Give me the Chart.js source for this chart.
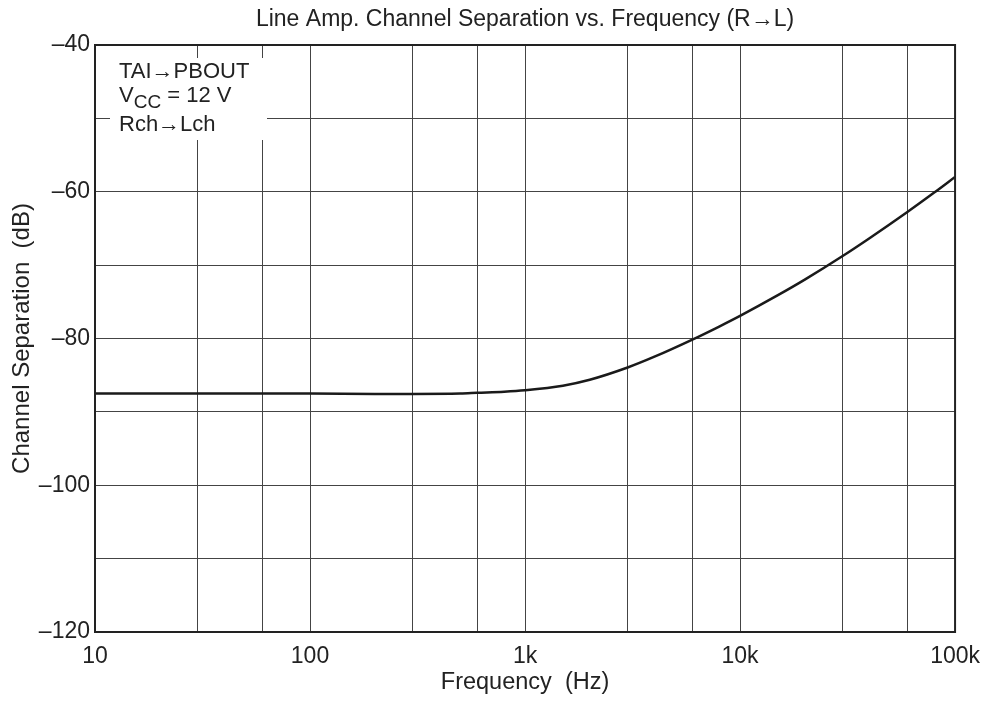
<!DOCTYPE html>
<html><head><meta charset="utf-8">
<script src="https://cdn.jsdelivr.net/npm/chart.js@4"></script>
<style>html,body{margin:0;padding:0;background:#fff}#wrap{width:991px;height:704px}</style>
</head><body><div id="wrap"><canvas id="c" width="991" height="704"></canvas></div>
<script>
// ---- data ----
const freqHz = [10, 20, 50, 100, 200, 300, 500, 600, 800, 1000, 1500, 2000, 3000, 4000, 6000, 8000, 10000, 15000, 20000, 30000, 40000, 60000, 80000, 100000];
const separationDb = [-87.5, -87.5, -87.5, -87.5, -87.55, -87.55, -87.5, -87.4, -87.25, -87.05, -86.43, -85.62, -83.95, -82.48, -80.15, -78.37, -76.92, -74.1, -71.98, -68.76, -66.33, -62.76, -60.11, -57.98];
const xGridValues = [10, 30, 60, 100, 300, 600, 1000, 3000, 6000, 10000, 30000, 60000, 100000];
const xTickLabels = {10: '10', 100: '100', 1000: '1k', 10000: '10k', 100000: '100k'};
const yTickLabels = {'-120': '\u2013120', '-100': '\u2013100', '-80': '\u201380', '-60': '\u201360', '-40': '\u201340'};
const chartTitle = 'Line Amp. Channel Separation vs. Frequency (R\u2192L)';
const xTitle = 'Frequency  (Hz)';
const yTitle = 'Channel Separation  (dB)';
const noteLine1 = 'TAI\u2192PBOUT';
const noteLine2 = ['V', 'CC', ' = 12 V'];
const noteLine3 = 'Rch\u2192Lch';

const FAM = '"Liberation Sans", Arial, Helvetica, sans-serif';
const TXT = '#222';

const framePlugin = {
  id: 'frame',
  afterDraw(chart) {
    const {ctx, chartArea: a} = chart;
    ctx.save();
    ctx.strokeStyle = '#222';
    ctx.lineWidth = 2;
    ctx.strokeRect(a.left, a.top, a.right - a.left, a.bottom - a.top);
    // annotation box
    ctx.fillStyle = '#fff';
    ctx.fillRect(a.left + 15, a.top + 13, 157, 82);
    ctx.fillStyle = TXT;
    ctx.textBaseline = 'alphabetic';
    ctx.textAlign = 'left';
    const x = a.left + 24;
    ctx.font = '22px ' + FAM;
    ctx.fillText(noteLine1, x, a.top + 33);
    let w = ctx.measureText(noteLine2[0]).width;
    ctx.fillText(noteLine2[0], x, a.top + 57);
    ctx.font = '19px ' + FAM;
    ctx.fillText(noteLine2[1], x + w, a.top + 63);
    const w2 = ctx.measureText(noteLine2[1]).width;
    ctx.font = '22px ' + FAM;
    ctx.fillText(noteLine2[2], x + w + w2, a.top + 57);
    ctx.fillText(noteLine3, x, a.top + 86);
    ctx.restore();
  }
};

new Chart(document.getElementById('c'), {
  type: 'line',
  data: {
    labels: freqHz,
    datasets: [{
      data: freqHz.map((f, i) => ({x: f, y: separationDb[i]})),
      borderColor: '#1a1a1a',
      borderWidth: 2.5,
      pointRadius: 0,
      fill: false,
      cubicInterpolationMode: 'monotone'
    }]
  },
  options: {
    responsive: false,
    animation: false,
    devicePixelRatio: 1,
    layout: {padding: {left: 0, right: 34, top: 0, bottom: 0}},
    plugins: {
      legend: {display: false},
      tooltip: {enabled: false},
      title: {
        display: true, text: chartTitle, color: TXT, fullSize: false,
        font: {size: 23, family: FAM, weight: 'normal'},
        padding: {top: 6, bottom: 11.4}
      }
    },
    scales: {
      x: {
        type: 'logarithmic', min: 10, max: 100000,
        afterBuildTicks: s => { s.ticks = xGridValues.map(v => ({value: v})); },
        afterFit: s => { s.height = 72; },
        ticks: {
          autoSkip: false, maxRotation: 0, minRotation: 0, padding: 11, color: TXT,
          font: {size: 23, family: FAM},
          callback: v => (xTickLabels[v] !== undefined ? xTickLabels[v] : '')
        },
        grid: {color: '#444', lineWidth: 1, drawTicks: false},
        border: {color: '#222', width: 2},
        title: {display: true, text: xTitle, color: TXT, font: {size: 23.5, family: FAM}, padding: {top: 0, bottom: 7}}
      },
      y: {
        type: 'linear', min: -120, max: -40,
        afterFit: s => { s.width = 95; },
        ticks: {
          stepSize: 10, padding: 5, color: TXT,
          font: {size: 23, family: FAM},
          callback: v => (yTickLabels[String(v)] !== undefined ? yTickLabels[String(v)] : '')
        },
        grid: {color: '#444', lineWidth: 1, drawTicks: false},
        border: {color: '#222', width: 2},
        title: {display: true, text: yTitle, color: TXT, font: {size: 24, family: FAM}, padding: {top: 8, bottom: 0}}
      }
    }
  },
  plugins: [framePlugin]
});
</script>
</body></html>
